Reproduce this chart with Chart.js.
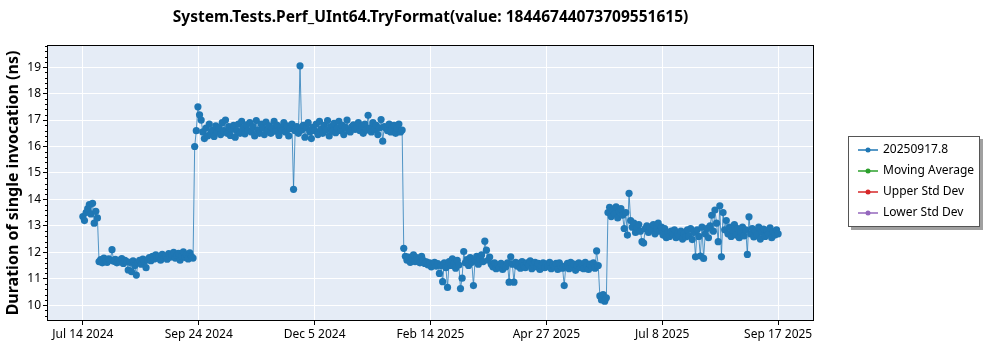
<!DOCTYPE html>
<html>
<head>
<meta charset="utf-8">
<script src="https://cdn.jsdelivr.net/npm/chart.js@4.4.1/dist/chart.umd.min.js"></script>
<style>
    html, body { margin: 0; padding: 0; background: #fff; }
    #wrap { position: relative; width: 1000px; height: 350px; }
</style>
</head>
<body>
<div id="wrap"><canvas id="perf"></canvas></div>
<script>
const chartTitle = 'System.Tests.Perf_UInt64.TryFormat(value: 18446744073709551615)';
const yTitle = 'Duration of single invocation (ns)';

// one run per day, day 0 = Jul 14 2024
const runValues = [
    // Jul 2024
    13.35, 13.2, 13.5, 13.65, 13.8, 13.45, 13.85, 13.1, 13.55, 13.3,
    11.65, 11.72, 11.6, 11.78, 11.68, 11.62, 11.75, 11.7, 12.1, 11.66,
    11.73, 11.6, 11.7, 11.64, 11.76, 11.58, 11.7, 11.65, 11.33, 11.62,
    11.27, 11.68, 11.5, 11.14, 11.6, 11.7, 11.55, 11.74, 11.66, 11.42,
    11.72, 11.8, 11.68, 11.85, 11.75, 11.9, 11.78, 11.84, 11.7, 11.92,
    11.8, 11.86, 11.74, 11.95, 11.82, 11.9, 12.0, 11.78, 11.88, 11.96,
    11.7, 11.85, 12.02, 11.8, 11.92, 11.75, 11.98, 11.84, 11.78,
    // Sep 2024 jump
    16.0, 16.6, 17.5, 17.2, 17.0, 16.55, 16.3, 16.7, 16.4, 16.85,
    16.5, 16.62, 16.38, 16.78, 16.55, 16.7, 16.45, 16.9, 16.6, 17.0,
    16.5, 16.75, 16.42, 16.65, 16.8, 16.35, 16.6, 16.85, 16.5, 16.95,
    16.7, 16.48, 16.82, 16.6, 16.9, 16.55, 16.75, 16.4, 16.98, 16.62,
    16.5, 16.85, 16.7, 16.45, 16.92, 16.6, 16.78, 16.5, 16.7, 16.95,
    16.58, 16.8, 16.42, 16.72, 16.6, 16.9, 16.55, 16.78, 16.4, 16.68,
    16.85, 14.38, 16.6, 16.75, 16.5, 19.05, 16.62, 16.8, 16.35, 16.7,
    16.9, 16.55, 16.3, 16.72, 16.6, 16.85, 16.45, 16.95, 16.65, 16.5,
    16.8, 16.62, 16.98, 16.4, 16.75, 16.58, 16.88, 16.52, 16.7, 16.95,
    16.6, 16.8, 16.45, 16.72, 17.0, 16.6, 16.55, 16.75, 16.82, 16.65,
    16.7, 16.9, 16.6, 16.78, 16.5, 16.85, 16.62, 17.18, 16.7, 16.55,
    16.9, 16.65, 16.8, 16.45, 16.7, 17.02, 16.2, 16.75, 16.7, 16.6,
    16.85, 16.55, 16.72, 16.8, 16.5, 16.68, 16.85, 16.55, 16.62,
    // Feb 2025 drop
    12.15, 11.85, 11.7, 11.82, 11.62, 11.78, 11.9, 11.65, 11.8, 11.72,
    11.6, 11.85, 11.7, 11.58, 11.64, 11.52, 11.6, 11.45, 11.55, 11.62,
    11.48, 11.57, 11.2, 11.5, 10.89, 11.6, 11.42, 10.67, 11.65, 11.5,
    11.75, 11.58, 11.4, 11.7, 11.52, 10.63, 11.02, 12.03, 11.6, 11.72,
    11.5, 11.8, 11.62, 10.74, 11.7, 11.85, 11.55, 11.75, 11.9, 11.65,
    12.42, 12.08, 11.7, 11.82, 11.55, 11.45, 11.6, 11.38, 11.52, 11.42,
    11.58, 11.35, 11.5, 11.45, 11.6, 10.87, 11.83, 11.55, 10.87, 11.62,
    11.48, 11.58, 11.4, 11.65, 11.5, 11.42, 11.6, 11.52, 11.68, 11.38,
    11.55, 11.62, 11.45, 11.58, 11.35, 11.5, 11.6, 11.42, 11.55, 11.48,
    11.62, 11.38, 11.52, 11.45, 11.58, 11.35, 11.6, 11.48, 11.4, 10.74,
    11.5, 11.58, 11.38, 11.62, 11.45, 11.55, 11.32, 11.5, 11.6, 11.42,
    11.55, 11.38, 11.62, 11.48, 11.35, 11.55, 11.45, 11.6, 11.4, 12.05,
    11.5, 10.35, 10.2, 10.4, 10.15, 10.28,
    // Jun 2025 jump
    13.5, 13.7, 13.35, 13.6, 13.45, 13.72, 13.3, 13.55, 13.65, 13.4,
    12.9, 13.5, 12.65, 14.23, 13.2, 12.95, 13.1, 12.75, 12.95, 13.05,
    12.8, 12.4, 12.35, 12.9, 13.0, 12.75, 12.95, 12.85, 13.05, 12.7,
    12.9, 13.1, 12.8, 12.95, 12.65, 12.9, 12.55, 12.75, 12.6, 12.8,
    12.68, 12.85, 12.55, 12.72, 12.62, 12.8, 12.5, 12.7, 12.58, 12.85,
    12.62, 12.9, 12.48, 12.75, 11.83, 12.85, 12.6, 11.86, 12.95, 11.77,
    12.7, 12.9, 12.55, 13.0, 13.4, 12.8, 13.6, 13.1, 12.4, 13.76,
    11.83, 13.5, 12.85, 13.2, 12.7, 12.95, 12.6, 12.82, 13.05, 12.65,
    12.9, 12.55, 12.78, 12.95, 12.62, 12.85, 11.92, 13.34, 12.7, 12.9,
    12.58, 12.8, 12.65, 12.95, 12.5, 12.75, 12.88, 12.6, 12.82, 12.7,
    12.92, 12.55, 12.78, 12.65, 12.85, 12.7
];

const tickLabels = ['Jul 14 2024', 'Sep 24 2024', 'Dec 5 2024', 'Feb 14 2025', 'Apr 27 2025', 'Jul 8 2025', 'Sep 17 2025'];
const yTicks = [10, 11, 12, 13, 14, 15, 16, 17, 18, 19];

const seriesNames = ['20250917.8', 'Moving Average', 'Upper Std Dev', 'Lower Std Dev'];
const seriesColors = ['#1f77b4', '#2ca02c', '#d62728', '#9467bd'];

const FONT = '"Noto Sans", "Open Sans", sans-serif';
const lastDay = runValues.length - 1;
const tickStep = lastDay / (tickLabels.length - 1);

// plot background, frame, minor ticks, title and legend box
const decor = {
    id: 'decor',
    beforeDraw(chart) {
        const a = chart.chartArea, ctx = chart.ctx;
        ctx.save();
        ctx.fillStyle = '#e5ecf6';
        ctx.fillRect(a.left, a.top, a.right - a.left, a.bottom - a.top);
        ctx.restore();
    },
    afterDraw(chart) {
        const a = chart.chartArea, ctx = chart.ctx;
        const y = chart.scales.y;
        ctx.save();
        ctx.strokeStyle = '#000';
        ctx.lineWidth = 1;
        ctx.strokeRect(a.left - 0.5, a.top - 0.5, a.right - a.left + 1, a.bottom - a.top + 1);

        // minor ticks every 0.2
        ctx.beginPath();
        for (let t = 96; t <= 198; t += 2) {
            if (t % 10 == 0) continue;
            const py = Math.round(y.getPixelForValue(t / 10)) + 0.5;
            ctx.moveTo(a.left - 3, py);
            ctx.lineTo(a.left, py);
        }
        ctx.stroke();

        // title
        ctx.fillStyle = '#000';
        ctx.font = 'bold 15.5px ' + FONT;
        ctx.textAlign = 'center';
        ctx.textBaseline = 'middle';
        ctx.fillText(chartTitle, (a.left + a.right) / 2, 18);

        // legend
        const bx = 848, by = 136, bw = 132, bh = 91;
        ctx.fillStyle = '#a0a0a0';
        ctx.fillRect(bx + 3, by + 3, bw, bh);
        ctx.fillStyle = '#fff';
        ctx.fillRect(bx, by, bw, bh);
        ctx.strokeStyle = '#555';
        ctx.strokeRect(bx + 0.5, by + 0.5, bw - 1, bh - 1);
        ctx.font = '12px ' + FONT;
        ctx.textAlign = 'left';
        chart.data.datasets.forEach((ds, i) => {
            const ry = by + 14 + i * 21;
            ctx.strokeStyle = seriesColors[i];
            ctx.lineWidth = 1.5;
            ctx.beginPath();
            ctx.moveTo(858, ry);
            ctx.lineTo(878, ry);
            ctx.stroke();
            ctx.fillStyle = ds.pointBackgroundColor;
            ctx.beginPath();
            ctx.arc(868, ry, 2.5, 0, Math.PI * 2);
            ctx.fill();
            ctx.fillStyle = '#000';
            ctx.fillText(ds.label, 883, ry);
        });
        ctx.restore();
    }
};

window.addEventListener('load', function() {
    const datasets = seriesNames.map((name, i) => ({
        label: name,
        data: i == 0 ? runValues.map((v, d) => ({ x: d, y: v })) : [],
        borderColor: seriesColors[i],
        backgroundColor: seriesColors[i],
        pointBackgroundColor: seriesColors[i],
        pointBorderColor: seriesColors[i],
        borderWidth: 1,
        pointRadius: 3.6,
        pointHoverRadius: 3.6,
        pointBorderWidth: 0
    }));
    datasets[0].borderColor = 'rgba(31,119,180,0.75)';

    new Chart(document.getElementById('perf'), {
        type: 'line',
        data: { datasets: datasets },
        plugins: [decor],
        options: {
            responsive: true,
            maintainAspectRatio: false,
            animation: false,
            layout: { padding: { top: 46, right: 187, left: 0, bottom: 0 } },
            plugins: {
                legend: { display: false },
                tooltip: { enabled: false }
            },
            scales: {
                x: {
                    type: 'linear',
                    min: -21.5,
                    max: lastDay + 21.5,
                    afterBuildTicks: s => { s.ticks = tickLabels.map((_, i) => ({ value: i * tickStep })); },
                    afterFit: s => { s.height = 30; },
                    ticks: {
                        callback: (v, i) => tickLabels[i],
                        font: { family: FONT, size: 12 },
                        color: '#000',
                        padding: 2,
                        maxRotation: 0,
                        autoSkip: false
                    },
                    grid: { color: '#fff', lineWidth: 1, tickColor: '#000', tickLength: 5 },
                    border: { display: false }
                },
                y: {
                    min: 9.44,
                    max: 19.8,
                    afterBuildTicks: s => { s.ticks = yTicks.map(v => ({ value: v })); },
                    afterFit: s => { s.width = 48; },
                    ticks: {
                        font: { family: FONT, size: 12 },
                        color: '#000',
                        padding: 2
                    },
                    grid: { color: '#fff', lineWidth: 1, tickColor: '#000', tickLength: 5 },
                    border: { display: false },
                    title: {
                        display: true,
                        text: yTitle,
                        font: { family: FONT, size: 16, weight: 'bold' },
                        color: '#000',
                        padding: { top: 4, bottom: 0 }
                    }
                }
            }
        }
    });
});
</script>
</body>
</html>
